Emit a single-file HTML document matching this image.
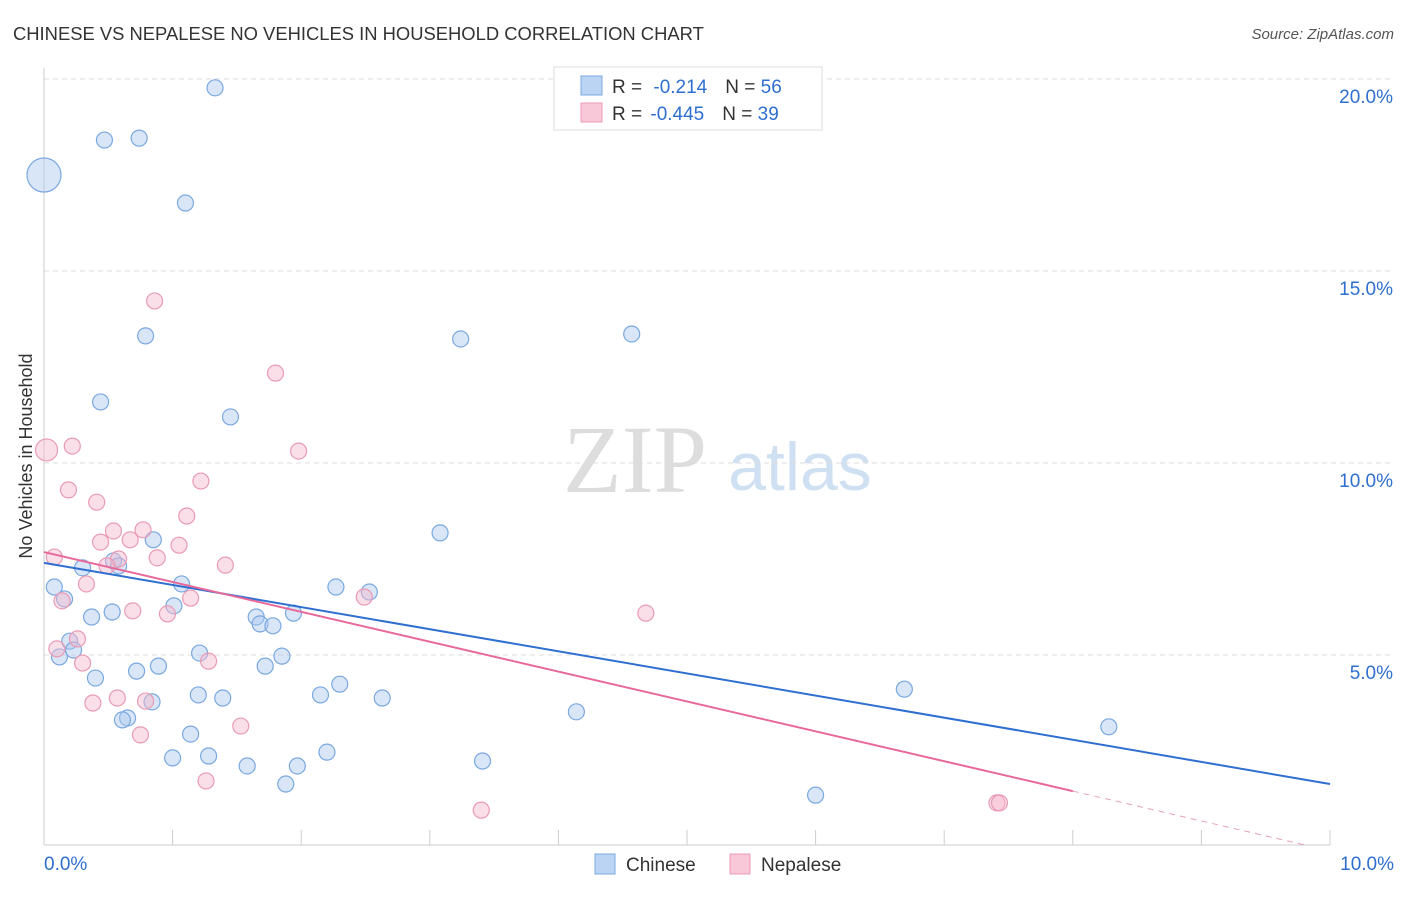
<!DOCTYPE html>
<html><head><meta charset="utf-8"><style>
body{margin:0;background:#fff;font-family:"Liberation Sans",sans-serif}
svg text{font-family:"Liberation Sans",sans-serif}
</style></head><body>
<svg width="1406" height="892" id="chart">
<text x="13" y="40" font-size="18.4" fill="#333">CHINESE VS NEPALESE NO VEHICLES IN HOUSEHOLD CORRELATION CHART</text>
<text x="1394" y="39" font-size="15" fill="#555" text-anchor="end" font-style="italic">Source: ZipAtlas.com</text>
<text x="32" y="456" font-size="18" fill="#333" text-anchor="middle" transform="rotate(-90 32 456)">No Vehicles in Household</text>
<text x="635" y="492" font-size="96" fill="#ddd" text-anchor="middle" style="font-family:'Liberation Serif',serif">ZIP</text>
<text x="800" y="490" font-size="68" fill="#cfe0f3" text-anchor="middle">atlas</text>
<g id="grid"></g><g id="axes"></g><g id="pts"></g><g id="lines"></g>
<g>
<rect x="554" y="67" width="268" height="63" fill="#fff" stroke="#ddd"/>
<rect x="581" y="76" width="21" height="19" fill="#bcd4f3" stroke="#7aa8e0"/>
<rect x="581" y="103" width="21" height="19" fill="#f9c8d8" stroke="#e99ab5"/>
<text x="612" y="93" font-size="19" fill="#333">R = <tspan fill="#2f6fd0" dx="6">-0.214</tspan><tspan dx="18" fill="#333">N = </tspan><tspan fill="#2f6fd0">56</tspan></text>
<text x="612" y="120" font-size="19" fill="#333">R = <tspan fill="#2f6fd0" dx="3">-0.445</tspan><tspan dx="18" fill="#333">N = </tspan><tspan fill="#2f6fd0">39</tspan></text>
</g>
<g>
<rect x="595" y="854" width="20" height="20" fill="#bcd4f3" stroke="#7aa8e0"/>
<text x="626" y="871" font-size="19" fill="#333">Chinese</text>
<rect x="730" y="854" width="20" height="20" fill="#f9c8d8" stroke="#e99ab5"/>
<text x="761" y="871" font-size="19" fill="#333">Nepalese</text>
</g>
</svg>
<script>
const blueX=[1.33,.47,.74,1.10,.79,3.24,4.57,.44,1.45,3.08,.85,.54,.30,.58,.08,1.07,2.27,2.53,.16,1.01,.53,.37,1.65,1.94,1.68,1.78,.20,1.21,.12,.23,1.85,1.72,.89,.72,.40,2.30,1.20,1.39,2.15,2.63,.84,4.14,6.69,8.28,.65,.61,1.14,1.0,1.28,2.20,1.58,1.97,3.41,1.88,6.0];
const blueY=[19.77,18.41,18.46,16.77,13.31,13.23,13.36,11.59,11.20,8.18,8.0,7.45,7.27,7.32,6.77,6.85,6.77,6.64,6.46,6.28,6.12,5.99,5.99,6.09,5.81,5.76,5.36,5.05,4.95,5.13,4.97,4.71,4.71,4.58,4.40,4.24,3.96,3.88,3.96,3.88,3.78,3.52,4.11,3.13,3.36,3.31,2.94,2.32,2.37,2.47,2.11,2.11,2.24,1.64,1.35];
const pinkX=[.86,1.80,.22,1.98,.19,1.22,.41,1.11,.54,.77,.67,.44,1.05,.08,.58,.88,1.41,.49,.33,.69,.96,1.14,2.49,4.68,.14,.26,.10,.30,1.28,.57,.79,.38,1.53,.75,1.26,3.40,7.41,7.43];
const pinkY=[14.22,12.34,10.44,10.31,9.30,9.53,8.98,8.62,8.23,8.26,8.0,7.94,7.86,7.55,7.50,7.53,7.34,7.32,6.85,6.15,6.07,6.48,6.51,6.09,6.41,5.42,5.16,4.79,4.84,3.88,3.80,3.75,3.15,2.92,1.72,0.96,1.15,1.15];
const bigBlue=[0,17.5], bigPink=[0.02,10.34];
const yTicks=[5,10,15,20];
const blueLine=[7.40,1.64], pinkLine=[7.68,-0.10];
const X=v=>44+v*128.6, Y=v=>847-v*38.4;
const NS="http://www.w3.org/2000/svg";
function mk(t,a,p){const e=document.createElementNS(NS,t);for(const k in a)e.setAttribute(k,a[k]);document.getElementById(p).appendChild(e);return e;}
yTicks.forEach(t=>{
 const l=mk('line',{x1:44,x2:1394,y1:Y(t),y2:Y(t),stroke:'#ddd','stroke-dasharray':'5,4'},'grid');
 
 
 const tx=mk('text',{x:1393,y:Y(t)+24,'font-size':19,fill:'#2f6fd0','text-anchor':'end'},'grid');tx.textContent=t.toFixed(1)+'%';
 
 
});
mk('line',{x1:44,x2:44,y1:68,y2:845,stroke:'#ccc'},'axes');
mk('line',{x1:44,x2:1330,y1:845,y2:845,stroke:'#ccc'},'axes');
for(let i=0;i<=10;i++){const t=mk('line',{x1:X(i),x2:X(i),y1:830,y2:845,stroke:'#ccc'},'axes');}
let a=mk('text',{x:44,y:870,'font-size':19,fill:'#2f6fd0'},'axes');a.textContent='0.0%';


a=mk('text',{x:1394,y:870,'font-size':19,fill:'#2f6fd0','text-anchor':'end'},'axes');a.textContent='10.0%';


function dot(x,y,r,f,s,n){const c=mk('circle',{cx:X(x),cy:Y(y),r:r,fill:f,stroke:s,'stroke-width':1.2},'pts');

}
blueX.forEach((x,i)=>dot(x,blueY[i],8,'rgba(170,200,240,0.45)','#7aa8e0','chinese-point'));
pinkX.forEach((x,i)=>dot(x,pinkY[i],8,'rgba(246,185,205,0.45)','#e99ab5','nepalese-point'));
dot(bigBlue[0],bigBlue[1],17,'rgba(170,200,240,0.45)','#7aa8e0','chinese-point');
dot(bigPink[0],bigPink[1],11,'rgba(246,185,205,0.45)','#e99ab5','nepalese-point');
let b=mk('line',{x1:X(0),y1:Y(blueLine[0]),x2:X(10),y2:Y(blueLine[1]),stroke:'#2f6fd0','stroke-width':2},'lines');


const pAt=x=>pinkLine[0]+(pinkLine[1]-pinkLine[0])*x/10;
let p=mk('line',{x1:X(0),y1:Y(pAt(0)),x2:X(8),y2:Y(pAt(8)),stroke:'#e8689a','stroke-width':2},'lines');


const xEnd=Math.min(10,(pinkLine[0]-0.05)/(pinkLine[0]-pinkLine[1])*10);
p=mk('line',{x1:X(8),y1:Y(pAt(8)),x2:X(xEnd),y2:Y(pAt(xEnd)),stroke:'#e8a0bb','stroke-width':1,'stroke-dasharray':'6,5'},'lines');


</script>
</body></html>
